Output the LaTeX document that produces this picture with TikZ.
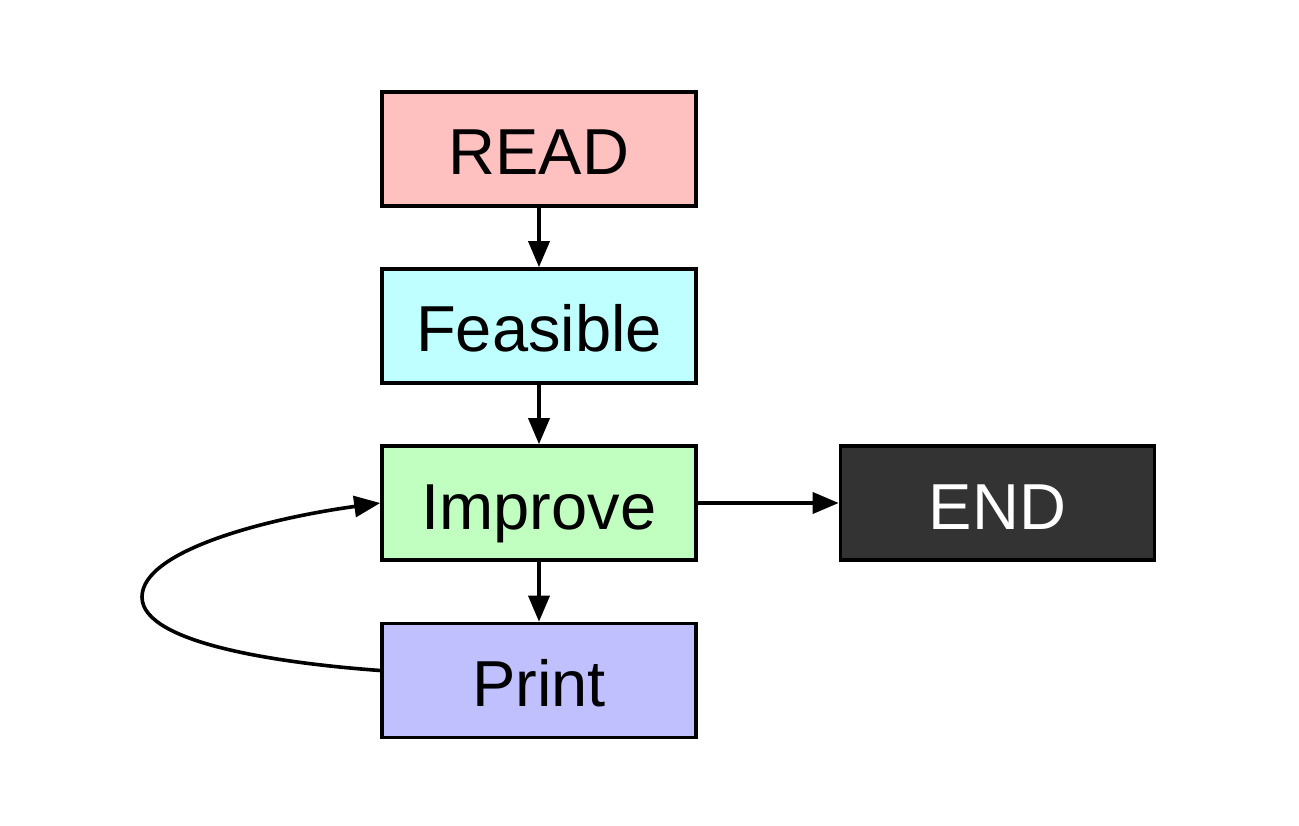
\documentclass[tikz,border=0pt]{standalone}
\usepackage{fontspec}
\setmainfont{Liberation Sans}
\usetikzlibrary{arrows.meta}
\definecolor{readfill}{HTML}{FFC0C0}
\definecolor{feasfill}{HTML}{C0FFFF}
\definecolor{impfill}{HTML}{C0FFC0}
\definecolor{printfill}{HTML}{C0C0FF}
\definecolor{endfill}{HTML}{333333}
\begin{document}
\begin{tikzpicture}[x=1pt,y=-1pt,
  stepbox/.style={draw=black, line width=3.6pt, minimum width=314pt, minimum height=114pt,
    inner sep=0pt, text height=47pt, text depth=0pt, text=black,
    font=\fontsize{65}{70}\selectfont},
  lbl/.style={yshift=-2.5pt},
  flow/.style={line width=3.6pt, -{Triangle[length=26pt,width=21pt]}}]
  \useasboundingbox (0,0) rectangle (1299,826);
  % boxes
  \node[stepbox, fill=readfill]  (read)    at (539,149)   {};
  \node[stepbox, fill=feasfill]  (feas)    at (539,326)   {};
  \node[stepbox, fill=impfill]   (improve) at (539,503)   {};
  \node[stepbox, fill=printfill] (print)   at (539,680.5) {};
  \node[stepbox, fill=endfill]   (end)     at (997.5,503) {};
  % labels
  \node[stepbox, draw=none, lbl] (readlbl)  at (read)    {READ};
  \node[stepbox, draw=none, lbl] (feaslbl)  at (feas)    {Feasible};
  \node[stepbox, draw=none, lbl] (implbl)   at (improve) {Improve};
  \node[stepbox, draw=none, lbl] (printlbl) at (print)   {Print};
  \node[stepbox, draw=none, lbl, text=white] (endlbl) at (end) {END};
  % connectors
  \draw[flow] (read) -- (feas);
  \draw[flow] (feas) -- (improve);
  \draw[flow] (improve) -- (print);
  \draw[flow] (improve) -- (end);
  \coordinate (loopleft) at (142,597);
  \draw[flow] ([yshift=10pt]print.west) .. controls (290,664) and (142,645) .. (loopleft)
    .. controls (142,550) and (270,518) .. (improve.west);
\end{tikzpicture}
\end{document}
